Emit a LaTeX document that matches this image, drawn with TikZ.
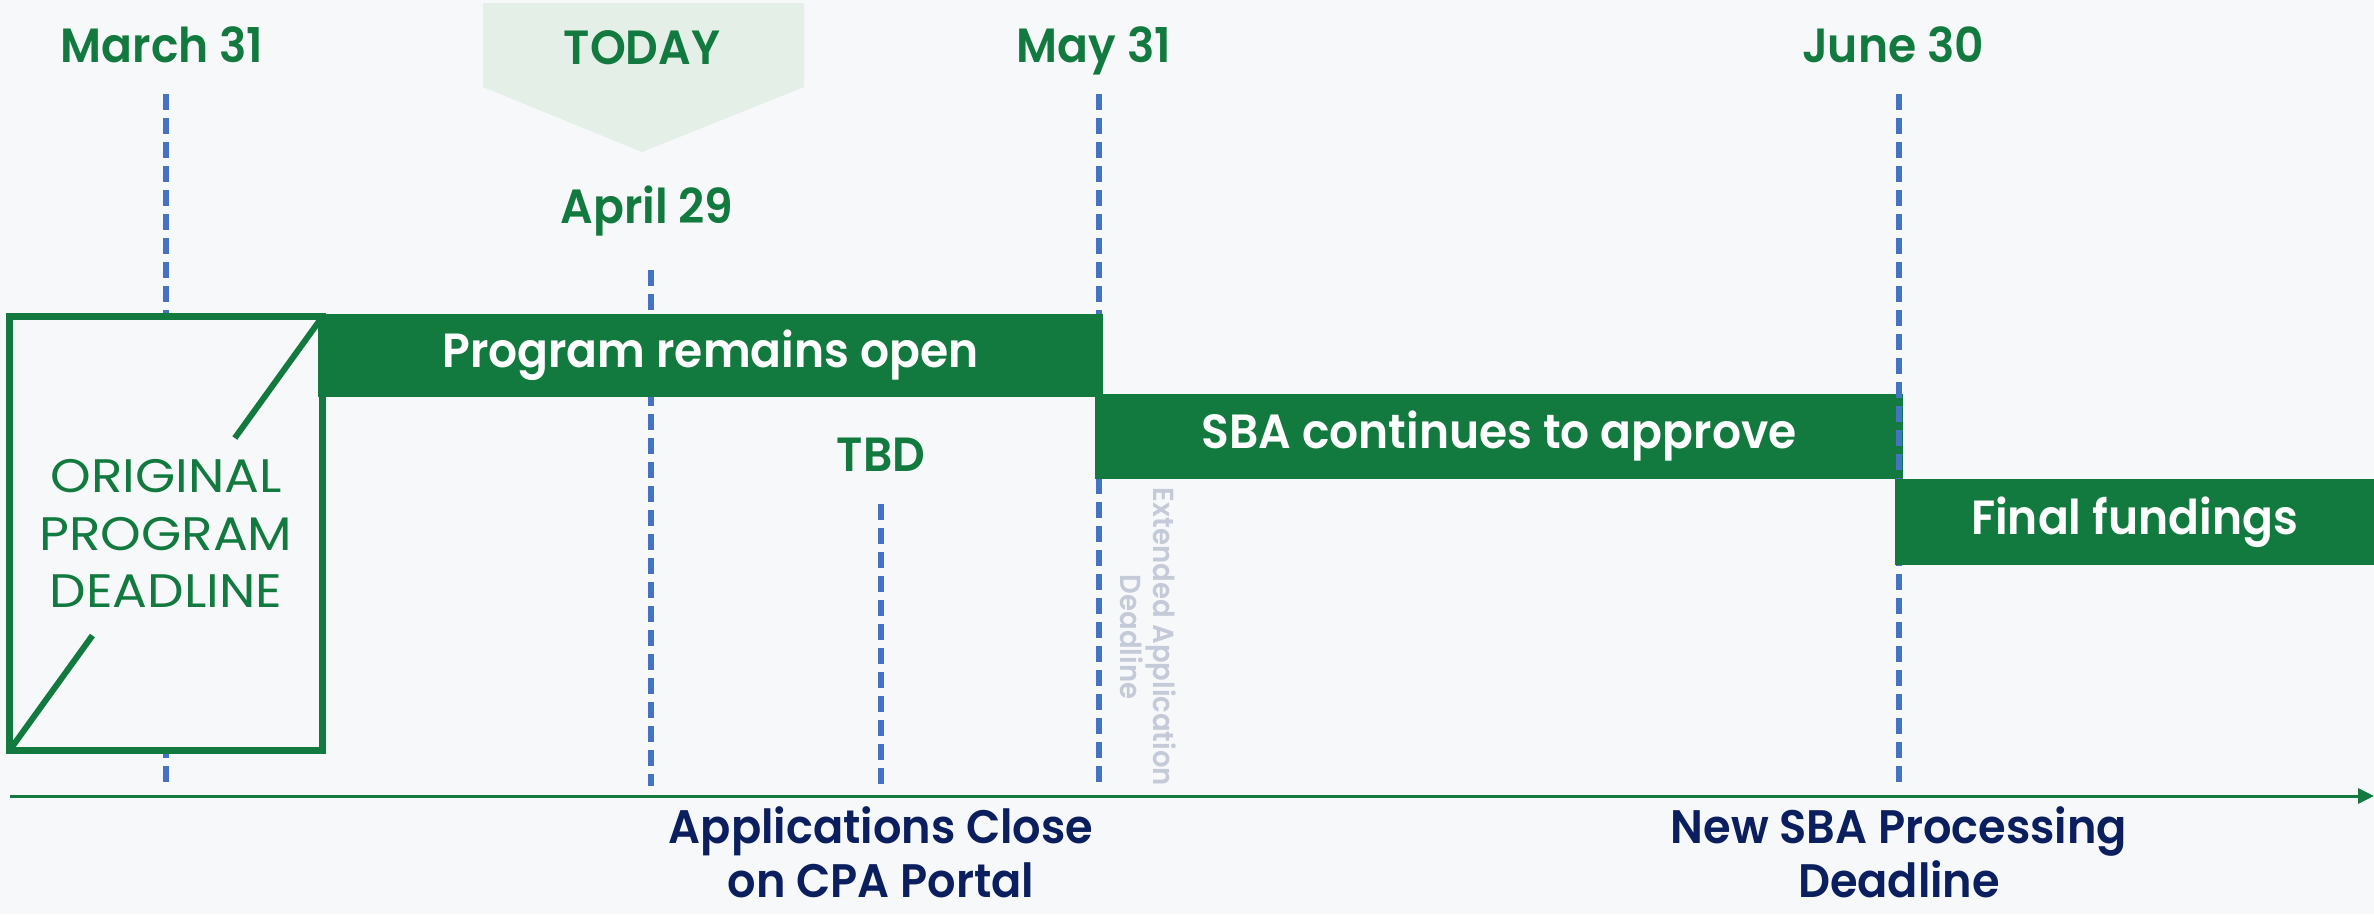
\documentclass[tikz,border=0pt]{standalone}
\usepackage{fontspec}
\setmainfont{Poppins}[BoldFont={Poppins SemiBold}, BoldFeatures={FakeStretch=0.95}]
\newfontfamily\widefont{Poppins}[FakeStretch=1.10]
\usetikzlibrary{arrows.meta,calc}
\definecolor{bg}{HTML}{F7F8FA}
\definecolor{grn}{HTML}{127A3F}
\definecolor{navy}{HTML}{0B1F5E}
\definecolor{dashblue}{HTML}{4472C4}
\definecolor{todayfill}{HTML}{E4EFE8}
\definecolor{extgray}{HTML}{C4CAD8}
\tikzset{
  datelbl/.style={font=\fontsize{48}{57}\selectfont\bfseries, text=grn, inner sep=0, anchor=base},
  barbox/.style={fill=grn, draw=none, inner sep=0, outer sep=0, text=white, font=\fontsize{48}{57}\selectfont\bfseries},
  navylbl/.style={font=\fontsize{47}{54}\selectfont\bfseries, text=navy, inner sep=0, align=center, anchor=base},
  vline/.style={draw=dashblue, line width=6, dash pattern=on 16 off 8},
}
\begin{document}
\begin{tikzpicture}[x=1pt,y=-1pt]
\fill[bg] (0,0) rectangle (2374,914);
\useasboundingbox (0,0) rectangle (2374,914);

% TODAY banner
\fill[todayfill] (483,3) -- (804,3) -- (804,87) -- (642,152) -- (483,87) -- cycle;
\node[datelbl] (today) at (642,64) {TODAY};

% date labels
\node[datelbl] (mar31) at (162,62) {March 31};
\node[datelbl] (may31) at (1094,62) {May 31};
\node[datelbl] (jun30) at (1893,62) {June 30};
\node[datelbl] (apr29) at (647,223) {April 29};
\node[datelbl] (tbd) at (881,471) {TBD};

% dashed lines
\coordinate (marT) at (166,94);  \coordinate (marB) at (166,786);
\coordinate (aprT) at (651,270); \coordinate (aprB) at (651,786);
\coordinate (tbdT) at (881,504); \coordinate (tbdB) at (881,786);
\coordinate (mayT) at (1099,94); \coordinate (mayB) at (1099,786);
\coordinate (junT) at (1899,94); \coordinate (junB) at (1899,786);
\draw[vline] (marT) -- (marB);
\draw[vline] (aprT) -- (aprB);
\draw[vline] (tbdT) -- (tbdB);
\draw[vline] (mayT) -- (mayB);

% original deadline box
\node[draw=grn, line width=7, fill=bg, outer sep=0, inner sep=0,
      minimum width=313, minimum height=434, align=center, text=grn,
      font=\widefont\fontsize{47}{57.5}\selectfont] (box) at (166,533.5)
      {ORIGINAL\\PROGRAM\\DEADLINE};
\draw[grn, line width=6] (box.south west) -- ($(box.south west)!0.265!(box.north east)$);
\draw[grn, line width=6] ($(box.south west)!0.72!(box.north east)$) -- (box.north east);

% bars
\node[barbox, minimum width=785, minimum height=83] (bar1) at (710.5,355.5) {Program remains open};
\node[barbox, minimum width=808, minimum height=85] (bar2) at (1499,436.5) {SBA continues to approve};
\draw[vline] (junT) -- (junB);
\node[barbox, minimum width=479, minimum height=86] (bar3) at (2134.5,522) {Final fundings};

% rotated note
\node[rotate=-90, font=\fontsize{29}{33}\selectfont\bfseries, text=extgray, align=center, inner sep=0]
  (ext) at (1148,637) {Extended Application\\Deadline};

% axis
\coordinate (ax0) at (10,796);
\coordinate (ax1) at (2374,796);
\draw[grn, line width=3, -{Triangle[length=16,width=15]}] (ax0) -- (ax1);

% bottom labels
\node[navylbl] (close) at (881,897) {Applications Close\\on CPA Portal};
\node[navylbl] (sba) at (1899,897) {New SBA Processing\\Deadline};
\end{tikzpicture}
\end{document}
